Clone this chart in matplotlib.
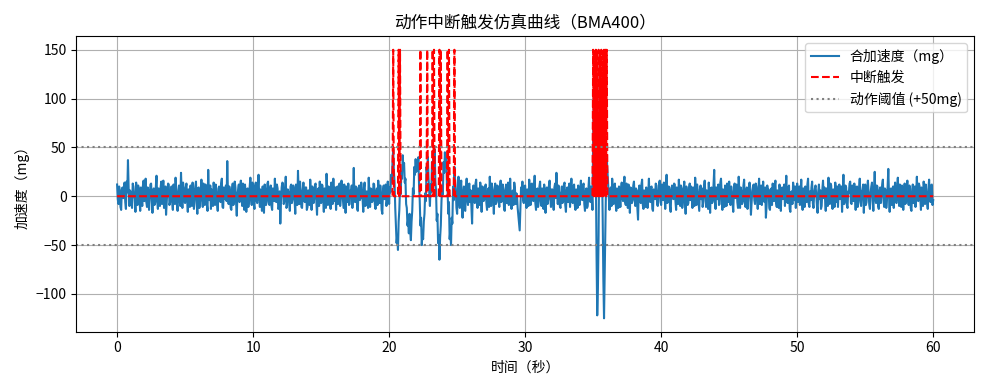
import numpy as np
import matplotlib
matplotlib.use("Agg")
import matplotlib.pyplot as plt

plt.rcParams["font.family"] = ["Noto Sans CJK SC", "DejaVu Sans"]

# Sample step (s) of the acceleration trace
dt = 0.05

# Combined acceleration (mg), one row per second
acc = [
    12, -3, -8, 10, 5, -11, -14, 7, 9, -2, 3, 14, -6, -13, 15, 4, 37, 8, -10, 6,
    4, -7, -12, 13, 10, 1, -3, -16, 14, 5, -9, 11, 7, -4, -15, 9, 2, -10, 11, 16,
    -5, 3, 18, -6, -11, 9, 6, -14, -2, 12, 13, -1, -17, 5, 8, -9, -7, 10, 21, -4,
    -13, 8, 3, -10, 9, 15, -8, 2, 16, -12, -4, 10, -19, -5, 7, 13, 12, -9, -6, 4,
    10, -6, -14, 12, 2, -8, 19, 6, -9, -15, 5, 11, -3, -10, 24, 3, -12, 14, 8, -5,
    -7, 9, 13, -4, -16, 7, 4, -11, 11, 2, -10, 14, 6, -13, -2, 10, 15, -6, -18, 8,
    9, -12, -5, 6, 17, -3, -11, 13, 3, -9, 12, 5, -8, -15, 27, 1, -4, 11, -13, 7,
    6, -10, 14, 3, -9, 12, 2, -7, -15, 8, 10, -4, -6, 13, 18, -11, -12, 9, 4, -3,
    11, -5, 36, 4, -8, 10, 5, -12, -14, 6, 13, -9, -3, 15, 9, -7, -20, 2, 7, 12,
    -6, 9, 16, -2, -10, 13, 3, -14, 12, 5, -16, 7, 8, -11, -4, 10, 19, -3, -9, 14,
    5, -8, -13, 11, 14, -4, -7, 9, 22, -2, -11, 7, 2, -15, 10, 4, -17, 12, 6, -9,
    -4, 13, 15, -7, -9, 6, 11, -10, -14, 8, 3, -5, 18, 2, -6, 12, 8, -13, -12, 5,
    -28, -6, 9, 14, 13, -8, -5, 3, 20, -12, -10, 7, 4, -2, -15, 10, 12, -7, -3, 11,
    7, -4, -18, 12, 10, -9, 26, 3, -8, 15, 5, -11, -12, 6, 14, -3, -6, 9, 9, -14,
    -11, 6, 3, -9, 17, 2, -14, 10, 6, -7, -2, 12, 13, -5, -19, 4, 8, -10, 15, 1,
    -7, 12, 11, -3, -16, 8, 4, -12, 23, 5, -9, 10, 7, -6, -13, 14, 2, -8, 18, -4,
    -5, 9, -14, 3, 10, -8, 6, 13, -10, -2, 16, 7, -3, -12, 12, 5, -17, 10, 8, -6,
    13, -9, -8, 6, 4, 11, -12, 2, 29, -5, -6, 10, 9, -13, -15, 7, 11, -4, -2, 14,
    6, -3, -16, 9, 14, -10, -9, 5, 3, -12, 19, 4, -11, 8, 7, -6, -4, 13, 12, -8,
    -13, 4, 8, -9, 16, 2, -7, 11, 2, -14, -18, 6, 11, -3, 5, 12, -10, -5, 15, 7,
    -8, 9, 4, 22, 15, 36, 48, 26, 14, -12, -30, -48, -40, -55, -26, -14, 8, 2, 25, 18,
    42, 28, 34, 14, 18, -8, -12, -30, -24, -38, -18, -36, -45, -26, -15, 8, 2, 30, 22, 38,
    25, 36, 28, 40, 12, -4, -30, -22, -50, -38, -44, -26, -18, 3, -5, 30, 22, 40, 18, 5,
    -10, 12, 4, 35, 28, 45, 36, 48, 15, 6, -25, -18, -48, -40, -65, -42, -30, -5, 10, 2,
    35, 24, 45, 30, 38, 12, 5, -18, -6, -44, -35, -50, -22, -28, 10, -4, 30, 16, 8, -12,
    -18, 4, 20, -5, -12, 9, 16, -8, -22, 3, 10, -14, -15, 7, 18, -3, -9, 11, 13, -6,
    6, -10, -28, 5, 11, -2, -7, 13, 17, -4, -12, 8, 4, -9, 14, 3, -16, 10, 9, -5,
    -3, 9, 12, -7, -14, 4, 8, -11, 20, 6, -10, 13, 5, -2, -18, 7, 13, -8, -6, 11,
    10, -3, -11, 8, 16, -6, -4, 12, 7, -13, -15, 5, 12, -7, 3, 14, -9, 2, 18, -5,
    -13, 4, 6, -9, 14, 8, -8, 3, 2, -12, -20, -28, -35, -14, 9, 5, 15, -4, -7, 10,
    11, -6, -12, 7, 4, -10, 17, 2, -9, 12, 13, -3, -5, 9, 21, -7, -14, 6, 8, -11,
    -6, 10, 15, -4, -10, 8, 5, -13, 12, 3, -17, 6, 9, -8, -3, 11, 16, -2, -11, 7,
    7, -5, -14, 9, 13, -2, 24, 6, -8, 11, 4, -10, -12, 3, 10, -7, -5, 12, 14, -9,
    -16, 5, 9, -6, 3, 13, -11, 2, 18, -4, -7, 10, 12, -9, -14, 7, 6, -12, 11, 3,
    -9, 6, 16, -3, -4, 11, 13, -8, -15, 4, 8, -12, -10, 7, 19, -2, -6, 10, 5, -14,
    60, 105, 130, 80, 20, -60, -122, -95, -40, 55, 140, 125, 95, 30, -20, -85, -125, -80, -30, 15,
    40, 26, 12, -4, -14, 5, 9, -10, 18, 3, -8, 11, 13, -6, -15, 8, 6, -12, 10, 2,
    -11, 7, 14, -2, -5, 10, 20, -6, -9, 13, 3, -12, 12, 4, -17, 9, 8, -7, -4, 11,
    15, -3, -10, 8, 6, -12, -24, 5, 11, -4, -7, 12, 17, -9, -13, 6, 4, -11, 9, 2,
    -12, 4, 18, -5, -6, 9, 10, -13, -15, 7, 5, -3, 13, 11, -8, -10, 2, 14, 16, -6,
    -9, 12, 7, -4, 14, 3, -13, 8, 22, -7, -5, 10, 9, -11, -16, 6, 11, -2, -3, 13,
    12, -5, -14, 9, 5, -8, 17, 3, -10, 11, 8, -12, -6, 7, 15, -3, -18, 10, 4, -9,
    -7, 8, 13, -4, 10, 2, -12, 9, 6, -10, 19, 5, -9, 12, 3, -6, -15, 7, 11, -3,
    8, -11, -5, 10, 16, 3, -11, 6, 2, -13, 14, -2, -17, 8, 9, -7, -4, 12, 27, -5,
    -13, 9, 6, -3, 12, -9, -8, 14, 18, 2, -14, 7, 5, -11, 11, 4, -10, 13, 7, -6,
    15, -4, -9, 10, 3, -7, -16, 6, 13, -2, 8, 12, -6, -12, 20, 5, -12, 9, 4, -8,
    -5, 11, 17, -6, -11, 4, 9, -13, -3, 8, 14, 2, -19, -7, 6, 10, 12, -4, -8, 13,
    10, -2, -13, 6, 18, -8, 4, 11, -9, 3, 15, -5, -6, 9, -22, -10, 11, 5, 7, -12,
    -14, 5, 8, -9, 13, 3, -5, 10, 16, -7, -11, 6, 2, -12, 12, 4, -15, 8, 9, -3,
    6, 12, -10, 3, 21, -5, -7, 9, 11, -13, -16, 4, 5, -8, 14, 7, -4, 10, -12, 2,
    13, -6, 7, 10, -9, 4, 17, -3, -14, 8, 3, -11, 10, 6, -6, 12, 18, -8, -11, 5,
    -4, 9, 15, -7, -12, 3, 8, 11, 2, -9, -17, 5, 12, -3, 6, -13, -10, 7, 16, -2,
    9, -4, -15, 8, 5, -10, 19, 2, -8, 13, 11, -6, -13, 7, 4, -11, 14, 3, -6, 10,
    -11, 6, 12, -3, 7, 10, -16, 4, 22, -8, -5, 11, 9, -9, -12, 5, 3, 13, 15, -7,
    -8, 11, 6, -5, 13, 2, -14, 9, 10, -11, -3, 7, 18, -6, -10, 4, 7, 12, -17, 3,
    12, -9, -6, 8, 16, 3, -9, -13, 4, 10, 14, -4, -15, 6, 25, -2, -7, 11, 10, -10,
    -13, 5, 9, -7, 3, 12, 17, -5, -11, 8, 6, -12, -4, 10, 28, 2, -16, 7, 8, -9,
    5, 10, -12, 4, 14, -6, -7, 9, 19, -3, -10, 12, 2, -11, 11, 6, -14, 3, 13, -8,
    -6, 7, 16, -4, -9, 11, 8, -12, -15, 3, 12, -7, 4, 10, -11, 5, 20, -2, -5, 13,
    10, -3, -14, 9, 7, -10, 15, 4, -8, 12, 3, -6, -13, 8, 17, -2, -6, 11, 12, -9,
    -4,
]

# Times (s) where the motion interrupt fires
trigger_times = [20.3, 20.7, 20.8, 22.3, 22.8, 23.2, 23.3, 23.7, 23.8,
                 24.3, 24.4, 24.8,
                 35.0, 35.1, 35.2, 35.3, 35.4, 35.5, 35.6, 35.7, 35.8, 35.9, 36.0]
trigger_level = 150
threshold = 50

t = np.arange(len(acc)) * dt
idx = np.round(t / dt).astype(int)
trig_idx = np.round(np.array(trigger_times) / dt).astype(int)
trigger = np.where(np.isin(idx, trig_idx), trigger_level, 0)

fig, ax = plt.subplots(figsize=(9.89, 3.9), dpi=100)
ax.plot(t, acc, color="#1f77b4", lw=1.5, label="合加速度（mg）")
ax.plot(t, trigger, "r--", lw=1.5, label="中断触发")
ax.axhline(threshold, color="gray", ls=":", lw=1.5, label="动作阈值 (+50mg)")
ax.axhline(-threshold, color="gray", ls=":", lw=1.5)

ax.set_title("动作中断触发仿真曲线（BMA400）")
ax.set_xlabel("时间（秒）")
ax.set_ylabel("加速度（mg）")
ax.grid(True)
ax.legend(loc="upper right")

plt.tight_layout()
plt.savefig("out.png")
